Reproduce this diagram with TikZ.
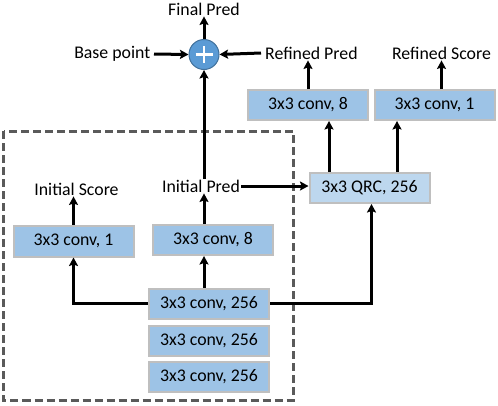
\documentclass[tikz,border=0pt]{standalone}
\usepackage{fontspec}
\setmainfont{Carlito}
\usetikzlibrary{arrows.meta,calc}
\definecolor{boxblue}{HTML}{9DC3E6}
\definecolor{qrcblue}{HTML}{BDD7EE}
\definecolor{boxedge}{HTML}{BFBFBF}
\definecolor{plusfill}{HTML}{5B9BD5}
\definecolor{plusedge}{HTML}{41719C}
\definecolor{dashgray}{HTML}{5A5A5A}
\tikzset{
  convbox/.style={draw=boxedge, line width=2pt, fill=boxblue, minimum width=120pt, minimum height=30pt, inner sep=0pt, font=\fontsize{17.8}{20}\selectfont},
  qrcbox/.style={convbox, fill=qrcblue},
  lbl/.style={inner sep=1pt, font=\fontsize{17.8}{20}\selectfont},
  arr/.style={line width=3pt, -{Stealth[length=8.5pt,width=9pt,inset=1.5pt]}},
  dashbox/.style={draw=dashgray, line width=3pt, dash pattern=on 8pt off 4pt}
}
\begin{document}
\begin{tikzpicture}[x=1pt,y=-1pt]
\useasboundingbox (0,0) rectangle (498,405);
% dashed frame
\draw[dashbox] (3.5,131) rectangle (293,400);
% nodes
\node[circle, draw=plusedge, line width=1pt, fill=plusfill, minimum size=30pt, inner sep=0pt] (plus) at (204,54.5) {};
\draw[white, line width=2.6pt] ($(plus.center)+(-8.5,0)$) -- ($(plus.center)+(8.5,0)$);
\draw[white, line width=2.6pt] ($(plus.center)+(0,-8.5)$) -- ($(plus.center)+(0,8.5)$);
\node[lbl] (final) at (204,9) {Final Pred};
\node[lbl, inner xsep=3.5pt, anchor=east] (base) at (154,54) {Base point};
\node[lbl, inner xsep=4pt, anchor=west] (refpred) at (261,53) {Refined Pred};
\node[lbl] (refscore) at (441.5,53) {Refined Score};
\node[convbox] (rconv8) at (308,105) {3x3 conv, 8};
\node[convbox] (rconv1) at (434.5,105) {3x3 conv, 1};
\node[qrcbox] (qrc) at (369.5,188) {3x3 QRC, 256};
\node[lbl] (ipred) at (201,186) {Initial Pred};
\node[lbl] (iscore) at (76.5,189) {Initial Score};
\node[convbox, minimum height=31pt] (lconv1) at (73.5,241) {3x3 conv, 1};
\node[convbox] (lconv8) at (213,240) {3x3 conv, 8};
\node[convbox] (c256a) at (209,303.5) {3x3 conv, 256};
\node[convbox] (c256b) at (209,340.5) {3x3 conv, 256};
\node[convbox] (c256c) at (209,377) {3x3 conv, 256};
% connectors
\draw[arr] (plus.north) -- (final.south);
\draw[arr] (base.east) -- (plus.west);
\draw[arr] (refpred.west) -- (plus.east);
\draw[arr] (ipred.north -| plus.south) -- (plus.south);
\draw[arr] (rconv8.north) -- (rconv8.north |- refpred.south);
\draw[arr] (refscore.south |- rconv1.north) -- (refscore.south);
\draw[arr] ([xshift=-40.5pt]qrc.north) -- ([xshift=-40.5pt]qrc.north |- rconv8.south);
\draw[arr] ([xshift=27.5pt]qrc.north) -- ([xshift=27.5pt]qrc.north |- rconv1.south);
\draw[arr] (ipred.east) -- (ipred.east -| qrc.west);
\draw[arr] (c256a.east) -| ([xshift=2pt]qrc.south);
\draw[arr] (c256a.west) -| (lconv1.south);
\draw[arr] (c256a.north -| plus.south) -- (lconv8.south -| plus.south);
\draw[arr] (lconv8.north -| plus.south) -- (ipred.south -| plus.south);
\draw[arr] (lconv1.north) -- (lconv1.north |- iscore.south);
\end{tikzpicture}
\end{document}
